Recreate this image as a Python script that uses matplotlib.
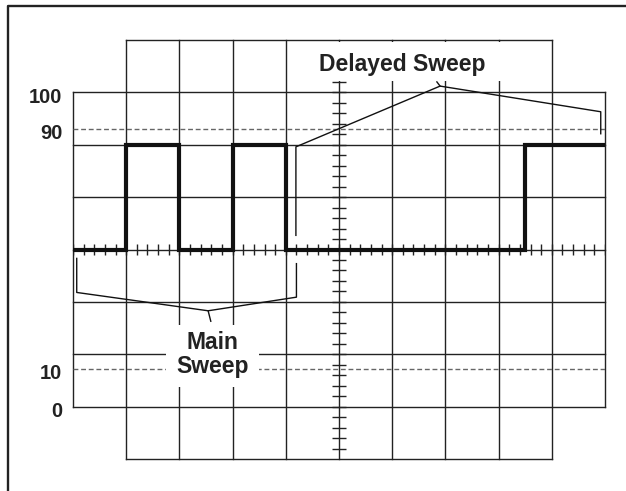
import numpy as np
import matplotlib
matplotlib.use("Agg")
import matplotlib.pyplot as plt
from matplotlib.lines import Line2D
from matplotlib.patches import Rectangle

plt.rcParams['font.family'] = ['Liberation Sans', 'DejaVu Sans']

# graticule: 10 x 8 divisions, centre at (5, 0)
n_xdiv = 10
n_ydiv = 8

# square wave (divisions): level changes at these times
wave_t = [0, 1, 2, 3, 4, 8.5, 10]
wave_v = [0, 2, 0, 2, 0, 2, 2]

# reference levels and their labels
level_pos = [3, 2.3, -2.28, -3]
level_txt = ["100", "90", "10", "0"]
dashed_levels = [2.3, -2.28]

# bracket outlines
delayed_x = [4.19, 4.19, 6.90, 9.92, 9.92]
delayed_y = [0.27, 1.96, 3.12, 2.63, 2.21]
delayed_stub_x = [6.90, 6.84]
delayed_stub_y = [3.12, 3.20]
main_x = [0.07, 0.07, 2.54, 4.20, 4.20]
main_y = [-0.17, -0.82, -1.17, -0.91, -0.27]
main_stub_x = [2.54, 2.59]
main_stub_y = [-1.17, -1.37]

fig = plt.figure(figsize=(6.26, 4.91), dpi=100)
ax = fig.add_axes([73 / 626, 1 - 459 / 491, 532 / 626, 419 / 491])
ax.set_xlim(0, n_xdiv)
ax.set_ylim(-n_ydiv / 2, n_ydiv / 2)
ax.axis('off')

gc = '#222222'
# vertical grid lines (outer ones shorter -> cut corners)
for i in range(n_xdiv + 1):
    if i in (0, n_xdiv):
        ax.plot([i, i], [-3, 3], color=gc, lw=1.0, zorder=1, clip_on=False)
    else:
        ax.plot([i, i], [-4, 4], color=gc, lw=1.0, zorder=1, clip_on=False)
for j in range(-4, 5):
    if abs(j) == 4:
        ax.plot([1, 9], [j, j], color=gc, lw=1.0, zorder=1, clip_on=False)
    else:
        ax.plot([0, 10], [j, j], color=gc, lw=1.0, zorder=1, clip_on=False)

# minor ticks on the centre axes
tx = np.arange(0, 10.01, 0.2)
ty = np.arange(-4, 4.01, 0.2)
ax.vlines(tx, -0.11, 0.11, color=gc, lw=1.0, zorder=1)
ax.hlines(ty[1:-1], 5 - 0.125, 5 + 0.125, color=gc, lw=1.0, zorder=1)

for lv in dashed_levels:
    ax.plot([0, 10], [lv, lv], color='#666666', lw=1.0, dashes=(3.5, 2), zorder=1)

# white masks behind the captions
ax.add_patch(Rectangle((4.27, 3.21), 3.85, 0.75, facecolor='white', edgecolor='none', zorder=2))
ax.add_patch(Rectangle((1.74, -2.62), 1.76, 1.17, facecolor='white', edgecolor='none', zorder=2))

ax.plot(wave_t, wave_v, drawstyle='steps-post', color='#111111', lw=3.0,
        solid_joinstyle='miter', zorder=3)

ax.plot(delayed_x, delayed_y, color='#111111', lw=1.0, zorder=3)
ax.plot(delayed_stub_x, delayed_stub_y, color='#111111', lw=1.0, zorder=3)
ax.plot(main_x, main_y, color='#111111', lw=1.0, zorder=3)
ax.plot(main_stub_x, main_stub_y, color='#111111', lw=1.0, zorder=3)

ax.text(6.18, 3.40, "Delayed Sweep", ha='center', va='baseline', fontsize=16.5,
        fontweight='bold', color='#222222', zorder=4)
ax.text(2.62, -2.0, "Main\nSweep", ha='center', va='center', fontsize=16.5,
        fontweight='bold', color='#222222', linespacing=1.05, zorder=4)

for p, t in zip(level_pos, level_txt):
    ax.text(-0.2, p - 0.09, t, ha='right', va='center', fontsize=14.5,
            fontweight='bold', color='#222222', clip_on=False)

# frame (top and left edge only)
fig.add_artist(Line2D([8 / 626, 8 / 626, 1], [0, 1 - 6 / 491, 1 - 6 / 491],
                      transform=fig.transFigure, color='#222222', lw=1.7))

fig.savefig("out.png", dpi=100)
